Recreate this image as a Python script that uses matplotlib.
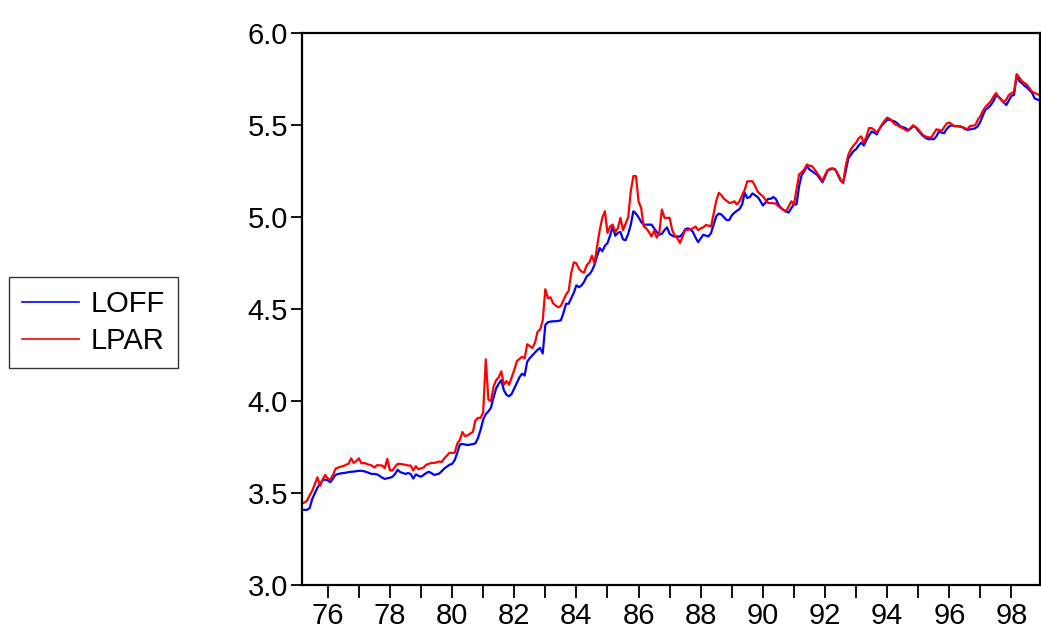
import matplotlib.pyplot as plt
import numpy as np
import pandas as pd

plt.rcParams['font.family'] = ['Liberation Sans', 'DejaVu Sans']

# Monthly observations, 1975M03 - 1998M12
loff = [
    3.41, 3.41, 3.41, 3.42, 3.47, 3.50, 3.53, 3.55, 3.57, 3.575,  # 1975
    3.57, 3.56, 3.58, 3.60, 3.605, 3.608, 3.61, 3.612, 3.615, 3.617, 3.618, 3.62,  # 1976
    3.622, 3.622, 3.62, 3.615, 3.61, 3.605, 3.605, 3.603, 3.595, 3.585, 3.578, 3.582,  # 1977
    3.585, 3.59, 3.605, 3.628, 3.615, 3.61, 3.605, 3.61, 3.605, 3.58, 3.603, 3.595,  # 1978
    3.59, 3.60, 3.61, 3.617, 3.61, 3.60, 3.603, 3.607, 3.62, 3.635, 3.645, 3.655,  # 1979
    3.66, 3.68, 3.72, 3.765, 3.768, 3.765, 3.762, 3.765, 3.767, 3.772, 3.80, 3.845,  # 1980
    3.90, 3.93, 3.945, 3.965, 4.02, 4.07, 4.095, 4.115, 4.06, 4.035, 4.027, 4.04,  # 1981
    4.07, 4.10, 4.13, 4.15, 4.14, 4.215, 4.235, 4.25, 4.265, 4.28, 4.29, 4.26,  # 1982
    4.415, 4.43, 4.433, 4.435, 4.435, 4.437, 4.44, 4.48, 4.53, 4.53, 4.56, 4.59,  # 1983
    4.63, 4.62, 4.63, 4.65, 4.68, 4.69, 4.71, 4.742, 4.79, 4.833, 4.815, 4.845,  # 1984
    4.86, 4.90, 4.95, 4.90, 4.915, 4.92, 4.88, 4.875, 4.91, 4.96, 5.033, 5.02,  # 1985
    5.00, 4.975, 4.96, 4.96, 4.96, 4.96, 4.94, 4.92, 4.906, 4.91, 4.93, 4.945,  # 1986
    4.91, 4.90, 4.895, 4.896, 4.895, 4.91, 4.935, 4.94, 4.935, 4.92, 4.89, 4.865,  # 1987
    4.885, 4.905, 4.90, 4.896, 4.915, 4.96, 5.006, 5.02, 5.015, 5.00, 4.985, 4.985,  # 1988
    5.01, 5.025, 5.035, 5.045, 5.07, 5.133, 5.105, 5.11, 5.13, 5.12, 5.11, 5.09,  # 1989
    5.064, 5.08, 5.10, 5.10, 5.11, 5.10, 5.07, 5.05, 5.04, 5.03, 5.027, 5.05,  # 1990
    5.07, 5.07, 5.17, 5.23, 5.25, 5.278, 5.26, 5.25, 5.24, 5.23, 5.21, 5.19,  # 1991
    5.22, 5.255, 5.26, 5.265, 5.26, 5.23, 5.20, 5.188, 5.25, 5.32, 5.34, 5.36,  # 1992
    5.37, 5.39, 5.406, 5.39, 5.42, 5.445, 5.466, 5.46, 5.45, 5.48, 5.50, 5.515,  # 1993
    5.53, 5.53, 5.525, 5.52, 5.51, 5.495, 5.49, 5.485, 5.475, 5.48, 5.495, 5.49,  # 1994
    5.47, 5.455, 5.44, 5.43, 5.424, 5.425, 5.424, 5.44, 5.466, 5.46, 5.457, 5.48,  # 1995
    5.495, 5.50, 5.495, 5.495, 5.493, 5.49, 5.48, 5.475, 5.478, 5.48, 5.484, 5.495,  # 1996
    5.52, 5.555, 5.585, 5.595, 5.61, 5.63, 5.66, 5.655, 5.64, 5.625, 5.61, 5.635,  # 1997
    5.66, 5.665, 5.768, 5.74, 5.73, 5.715, 5.705, 5.69, 5.675, 5.645, 5.64, 5.635,  # 1998
]

lpar = [
    3.445, 3.45, 3.46, 3.49, 3.514, 3.55, 3.587, 3.54, 3.575, 3.60,  # 1975
    3.58, 3.575, 3.60, 3.633, 3.64, 3.645, 3.648, 3.655, 3.66, 3.69, 3.665, 3.675,  # 1976
    3.69, 3.663, 3.665, 3.66, 3.655, 3.651, 3.64, 3.653, 3.652, 3.651, 3.636, 3.687,  # 1977
    3.624, 3.624, 3.645, 3.66, 3.66, 3.657, 3.655, 3.651, 3.651, 3.624, 3.647, 3.631,  # 1978
    3.636, 3.64, 3.655, 3.66, 3.665, 3.665, 3.668, 3.673, 3.67, 3.69, 3.705, 3.72,  # 1979
    3.72, 3.72, 3.77, 3.79, 3.833, 3.81, 3.815, 3.825, 3.833, 3.896, 3.91, 3.91,  # 1980
    3.94, 4.228, 4.01, 4.00, 4.08, 4.115, 4.13, 4.163, 4.09, 4.11, 4.09, 4.13,  # 1981
    4.17, 4.218, 4.23, 4.242, 4.233, 4.31, 4.30, 4.29, 4.318, 4.378, 4.39, 4.44,  # 1982
    4.609, 4.56, 4.565, 4.533, 4.52, 4.511, 4.518, 4.55, 4.58, 4.60, 4.697, 4.755,  # 1983
    4.75, 4.72, 4.705, 4.70, 4.74, 4.755, 4.791, 4.75, 4.842, 4.93, 4.997, 5.033,  # 1984
    4.915, 4.95, 4.96, 4.92, 4.94, 4.997, 4.93, 4.965, 5.00, 5.142, 5.224, 5.224,  # 1985
    5.087, 5.05, 4.95, 4.94, 4.92, 4.896, 4.926, 4.89, 4.915, 5.042, 4.997, 4.997,  # 1986
    4.997, 4.93, 4.90, 4.886, 4.86, 4.895, 4.93, 4.932, 4.934, 4.94, 4.95, 4.93,  # 1987
    4.94, 4.945, 4.958, 4.955, 4.95, 5.02, 5.09, 5.133, 5.12, 5.10, 5.09, 5.078,  # 1988
    5.08, 5.087, 5.069, 5.087, 5.12, 5.15, 5.196, 5.196, 5.196, 5.17, 5.14, 5.125,  # 1989
    5.115, 5.095, 5.078, 5.077, 5.076, 5.075, 5.06, 5.051, 5.04, 5.033, 5.06, 5.087,  # 1990
    5.07, 5.15, 5.233, 5.245, 5.26, 5.287, 5.28, 5.278, 5.26, 5.24, 5.22, 5.196,  # 1991
    5.23, 5.255, 5.265, 5.265, 5.256, 5.235, 5.205, 5.187, 5.28, 5.34, 5.37, 5.39,  # 1992
    5.405, 5.43, 5.44, 5.405, 5.44, 5.485, 5.485, 5.475, 5.46, 5.48, 5.505, 5.525,  # 1993
    5.542, 5.535, 5.52, 5.505, 5.50, 5.49, 5.485, 5.475, 5.469, 5.485, 5.50, 5.49,  # 1994
    5.478, 5.46, 5.445, 5.438, 5.435, 5.433, 5.455, 5.478, 5.475, 5.469, 5.49, 5.51,  # 1995
    5.515, 5.505, 5.496, 5.496, 5.496, 5.49, 5.485, 5.478, 5.496, 5.498, 5.50, 5.53,  # 1996
    5.55, 5.58, 5.60, 5.615, 5.63, 5.655, 5.675, 5.655, 5.64, 5.625, 5.64, 5.665,  # 1997
    5.675, 5.682, 5.778, 5.76, 5.74, 5.73, 5.72, 5.70, 5.682, 5.675, 5.67, 5.66,  # 1998
]

dates = pd.date_range('1975-03-01', periods=len(loff), freq='MS')
t = dates.year - 1900 + (dates.month - 1) / 12.0

year_ticks = list(range(76, 99, 2))
minor_ticks = list(range(77, 99, 2))
y_ticks = [3.0, 3.5, 4.0, 4.5, 5.0, 5.5, 6.0]

fig = plt.figure(figsize=(10.41, 6.28), dpi=100)
ax = fig.add_axes([0.290, 0.068, 0.709, 0.879])

ax.plot(t, loff, color='#0000ff', lw=1.6, label='LOFF')
ax.plot(t, lpar, color='#ff0000', lw=1.6, label='LPAR')

ax.set_xlim(t[0], t[-1])
ax.set_ylim(3.0, 6.0)
ax.set_xticks(year_ticks)
ax.set_xticks(minor_ticks, minor=True)
ax.set_xticklabels([str(y) for y in year_ticks])
ax.set_yticks(y_ticks)
ax.set_yticklabels(['%.1f' % v for v in y_ticks])

ax.tick_params(axis='x', which='both', direction='out', length=9, width=1.3,
               labelsize=21, pad=3)
ax.tick_params(axis='y', direction='out', length=8, width=1.3, labelsize=21, pad=2)
for s in ax.spines.values():
    s.set_linewidth(1.6)
    s.set_color('black')

leg = ax.legend(loc='center left', bbox_to_anchor=(-0.397, 0.476), fontsize=21,
                frameon=True, fancybox=False, edgecolor='black', handlelength=1.95,
                handletextpad=0.4, borderpad=0.45, labelspacing=0.3,
                borderaxespad=0)
leg.get_frame().set_linewidth(1.0)
for line in leg.get_lines():
    line.set_linewidth(1.2)

fig.savefig('out.png', dpi=100)
